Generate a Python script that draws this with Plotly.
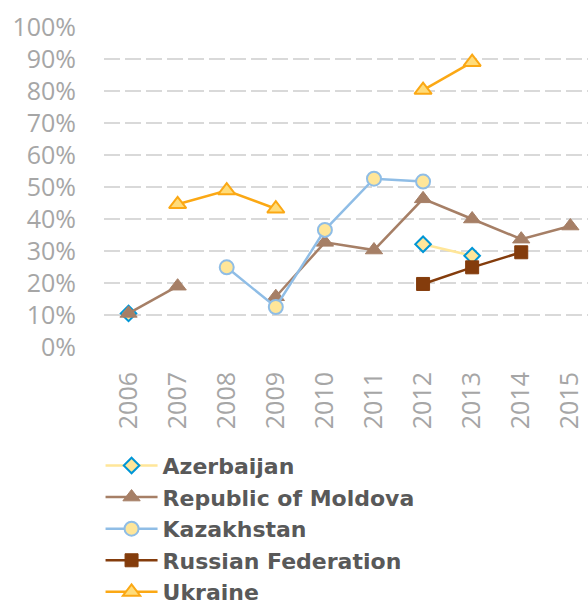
import plotly.graph_objects as go

# Share of respondents by year (percent); None marks a year with no survey
years = ["2006", "2007", "2008", "2009", "2010", "2011", "2012", "2013", "2014", "2015"]
azerbaijan = [10.5, None, None, None, None, None, 32.1, 28.5, None, None]
moldova = [10.5, 19.0, None, 15.7, 32.7, 30.3, 46.3, 40.0, 33.7, 37.8]
kazakhstan = [None, None, 24.9, 12.5, 36.6, 52.6, 51.7, None, None, None]
russia = [None, None, None, None, None, None, 19.7, 24.9, 29.6, None]
ukraine = [None, 44.6, 48.9, 43.2, None, None, 80.3, 89.0, None, None]
y_ticks = [0, 10, 20, 30, 40, 50, 60, 70, 80, 90, 100]
y_labels = [f"{v}%" for v in y_ticks]

series = [
    ("Azerbaijan", azerbaijan, "#FFE699", dict(symbol="diamond", size=12, color="#FFE699",
                                                line=dict(color="#0096D6", width=2))),
    ("Republic of Moldova", moldova, "#A67F66", dict(symbol="triangle-up", size=15, color="#A67F66",
                                                      line=dict(color="#A67F66", width=1))),
    ("Kazakhstan", kazakhstan, "#8FBDE6", dict(symbol="circle", size=14, color="#FFE699",
                                                line=dict(color="#8FBDE6", width=2))),
    ("Russian Federation", russia, "#843C0C", dict(symbol="square", size=13, color="#843C0C",
                                                    line=dict(color="#843C0C", width=1))),
    ("Ukraine", ukraine, "#FBA814", dict(symbol="triangle-up", size=15, color="#FFDC7A",
                                          line=dict(color="#FBA814", width=2))),
]

fig = go.Figure()
for name, vals, color, marker in series:
    fig.add_trace(go.Scatter(
        x=years, y=vals, name=name, mode="lines+markers",
        line=dict(color=color, width=2.5), marker=marker,
        connectgaps=False, cliponaxis=False,
    ))

fig.update_layout(
    width=588, height=605,
    margin=dict(l=104, r=0, t=27, b=258, autoexpand=False),
    paper_bgcolor="white", plot_bgcolor="white",
    font=dict(family="Open Sans", color="#A6A6A6"),
    showlegend=True,
    legend=dict(
        xref="container", yref="container",
        x=0.171, y=0.265, xanchor="left", yanchor="top",
        font=dict(family="DejaVu Sans", size=22, color="#595959", weight="bold"),
        itemwidth=52, tracegroupgap=0,
        bgcolor="rgba(0,0,0,0)",
    ),
    xaxis=dict(
        type="category", range=[-0.5, 9.36], tickangle=-90,
        tickfont=dict(size=25, color="#A6A6A6"),
        showgrid=False, showline=False, zeroline=False,
        ticks="outside", ticklen=14, tickcolor="rgba(0,0,0,0)",
    ),
    yaxis=dict(
        range=[0, 100], tickvals=y_ticks, ticktext=y_labels,
        tickfont=dict(size=25, color="#A6A6A6"),
        showgrid=True, gridcolor="#D9D9D9", gridwidth=2, griddash="16px,5px",
        zeroline=False, showline=False,
        ticks="outside", ticklen=22, tickcolor="rgba(0,0,0,0)",
    ),
)

fig.write_html("out.html")
